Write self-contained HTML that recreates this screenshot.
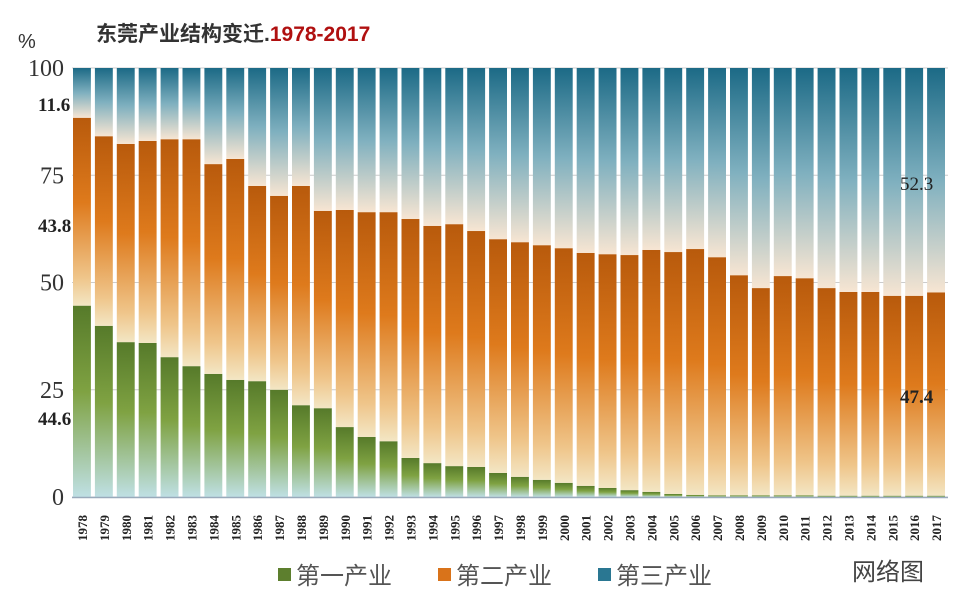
<!DOCTYPE html>
<html><head><meta charset="utf-8">
<style>
body{margin:0;background:#fff;width:960px;height:598px;overflow:hidden;font-family:"Liberation Serif","Noto Serif CJK SC",serif;}
</style></head>
<body>
<svg id="chart" width="960" height="598" xmlns="http://www.w3.org/2000/svg">
<defs>
<linearGradient id="gP" x1="0" y1="0" x2="0" y2="1"><stop offset="0" stop-color="#567a2a"/><stop offset="0.45" stop-color="#7fa242"/><stop offset="1" stop-color="#bfe0e4"/></linearGradient>
<linearGradient id="gS" x1="0" y1="0" x2="0" y2="1"><stop offset="0" stop-color="#b85a0c"/><stop offset="0.45" stop-color="#de7a1c"/><stop offset="0.85" stop-color="#efc58a"/><stop offset="1" stop-color="#f3e6c4"/></linearGradient>
<linearGradient id="gT" x1="0" y1="0" x2="0" y2="1"><stop offset="0" stop-color="#1c6a86"/><stop offset="0.5" stop-color="#7fb0bf"/><stop offset="1" stop-color="#f7e5d2"/></linearGradient>
</defs>
<text x="96" y="41" font-family="Liberation Sans,Noto Sans CJK SC,sans-serif" font-size="21" font-weight="bold" fill="#333">东莞产业结构变迁.<tspan fill="#b01010">1978-2017</tspan></text>
<text x="18" y="48" font-size="20" fill="#333" font-family="Liberation Sans,sans-serif">%</text>
<g id="grid"></g>
<g id="bars"></g>
<g id="axis"></g>
<text x="38" y="111" font-size="19" font-weight="bold" fill="#222">11.6</text>
<text x="38" y="232" font-size="19" font-weight="bold" fill="#222">43.8</text>
<text x="38" y="425" font-size="19" font-weight="bold" fill="#222">44.6</text>
<text x="900" y="190" font-size="19" fill="#222">52.3</text>
<text x="900" y="403" font-size="19" font-weight="bold" fill="#222">47.4</text>
<g font-family="Liberation Sans,Noto Sans CJK SC,sans-serif" font-size="24" fill="#555">
<rect x="278" y="568" width="13" height="13" fill="#5d7f2e"/>
<text x="296" y="584">第一产业</text>
<rect x="438" y="568" width="13" height="13" fill="#d9731a"/>
<text x="456" y="584">第二产业</text>
<rect x="598" y="568" width="13" height="13" fill="#2a7792"/>
<text x="616" y="584">第三产业</text>
</g>
<text x="852" y="580" font-family="Liberation Sans,Noto Sans CJK SC,sans-serif" font-size="24" fill="#444">网络图</text>
</svg>
<script>
const years=[1978,1979,1980,1981,1982,1983,1984,1985,1986,1987,1988,1989,1990,1991,1992,1993,1994,1995,1996,1997,1998,1999,2000,2001,2002,2003,2004,2005,2006,2007,2008,2009,2010,2011,2012,2013,2014,2015,2016,2017];
const primary=[44.6,39.9,36.1,35.9,32.6,30.5,28.7,27.3,27,25,21.4,20.7,16.3,14,13,9.1,7.9,7.2,7,5.6,4.7,4,3.3,2.6,2.1,1.6,1.2,0.7,0.5,0.4,0.4,0.4,0.4,0.4,0.3,0.3,0.3,0.3,0.3,0.3];
const secondary=[43.8,44.2,46.2,47.1,50.8,52.9,48.9,51.5,45.5,45.2,51.1,46,50.6,52.4,53.4,55.7,55.3,56.4,55,54.5,54.7,54.7,54.7,54.3,54.5,54.8,56.4,56.4,57.3,55.5,51.3,48.3,51.1,50.6,48.4,47.5,47.5,46.6,46.6,47.4];
const yTicks=[0,25,50,75,100];
const NS="http://www.w3.org/2000/svg";
const x0=72,x1=948,yTop=68,yBot=497;
const step=(x1-x0)/years.length, bw=step-4;
const Y=v=>yBot-(v/100)*(yBot-yTop);
const X=i=>x0+i*step+1;
function mk(tag,attrs,parent){const e=document.createElementNS(NS,tag);for(const k in attrs)e.setAttribute(k,attrs[k]);parent.appendChild(e);return e;}
const grid=document.getElementById('grid'),bars=document.getElementById('bars'),axis=document.getElementById('axis');
yTicks.forEach(t=>{
  const l=mk('line',{x1:x0,x2:x1,y1:Y(t),y2:Y(t),stroke:'#ccc','stroke-width':1},grid);
  
  
  const tx=mk('text',{x:64,y:Y(t)+8,'text-anchor':'end','font-size':24,fill:'#333'},axis);
  tx.textContent=t;
  
  
});
years.forEach((yr,i)=>{
  const p=primary[i],s=secondary[i],t=100-p-s;
  const segs=[[0,p,'gP','primary'],[p,s,'gS','secondary'],[p+s,t,'gT','tertiary']];
  segs.forEach(([b,h,g,n])=>{
    const r=mk('rect',{x:X(i),y:Y(b+h),width:bw,height:Math.max(0,Y(b)-Y(b+h)),fill:'url(#'+g+')'},bars);
    
    
  });
  const cx=X(i)+bw/2;
  const tx=mk('text',{x:0,y:0,transform:'translate('+(cx+5)+',541) rotate(-90)','font-size':13,'font-weight':'bold',fill:'#222'},axis);
  tx.textContent=yr;
  
  
});
const ax=mk('line',{x1:x0,x2:x1,y1:yBot+0.5,y2:yBot+0.5,stroke:'#9ab',"stroke-width":1.5},axis);


</script>
</body></html>
